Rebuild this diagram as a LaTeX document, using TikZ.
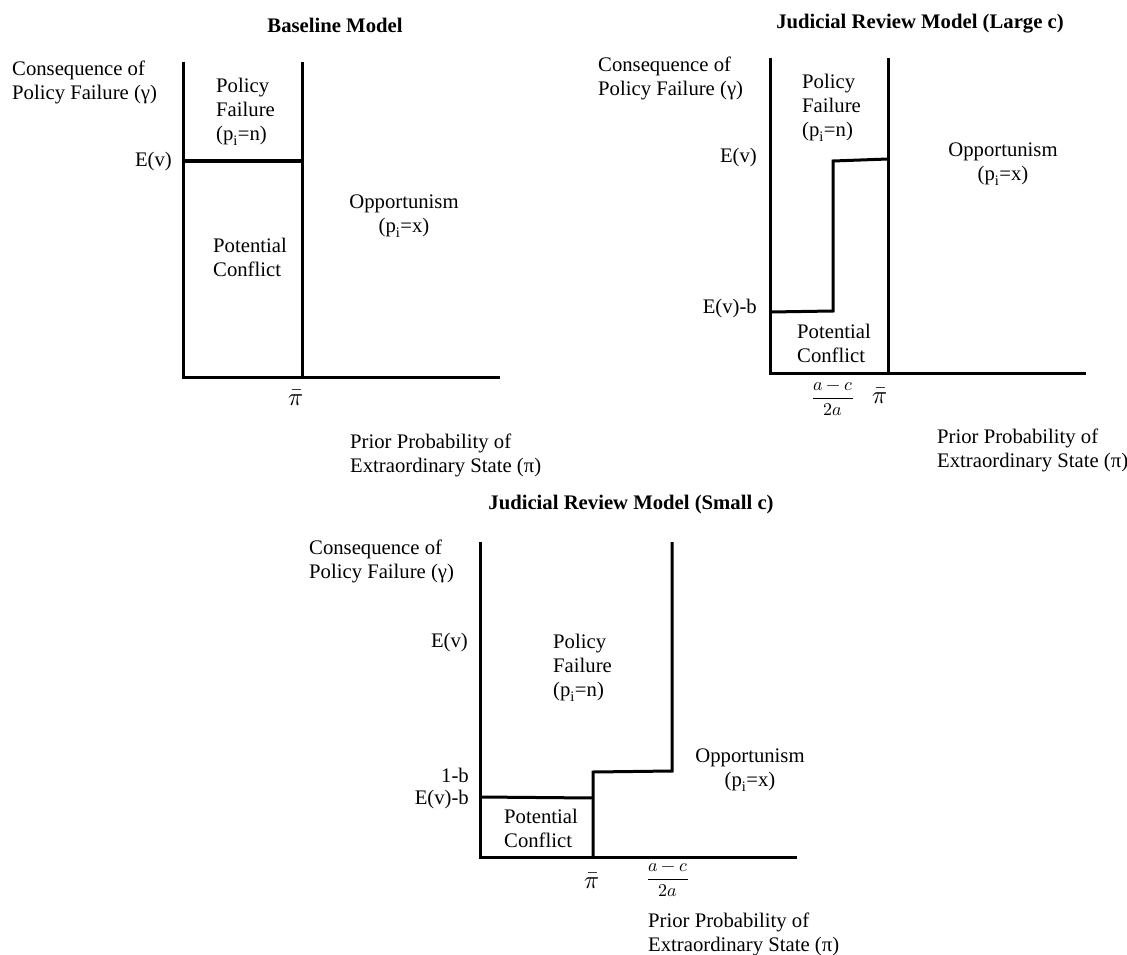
\documentclass[tikz,border=0pt]{standalone}
\usepackage{amsmath}
\usepackage{fontspec}
\usepackage{unicode-math}
\setmainfont{Liberation Serif}
\setmathfont{Latin Modern Math}
\usepackage{tikz}
\newcommand{\diagfont}{\fontsize{20.7}{24}\selectfont}
\newcommand{\pifont}{\fontsize{25}{28}\selectfont}
\newcommand{\fracfont}{\fontsize{18}{21}\selectfont}
\tikzstyle{bound} = [line width=3pt, line join=miter]
\tikzstyle{lbl} = [inner sep=0pt, align=left, font=\diagfont]
\tikzstyle{region} = [inner sep=0pt, align=left, font=\diagfont]
\tikzstyle{heading} = [inner sep=0pt, font=\diagfont\bfseries]
\begin{document}
\begin{tikzpicture}[x=1pt,y=-1pt,
opp/.style={inner sep=0pt, align=center, font=\diagfont},
tick/.style={inner sep=0pt, font=\pifont},
cut/.style={inner sep=0pt, font=\fracfont}]
\useasboundingbox (0,0) rectangle (1127,955);
%Baseline Model
\coordinate (top1) at (183,62);
\coordinate (o1) at (183,377);
\coordinate (end1) at (500,377);
\coordinate (divtop1) at (302,62);
\coordinate (div1) at (302,377);
\coordinate (ev1a) at (183,161);
\coordinate (ev1b) at (302,161);
\draw[bound] (top1) -- (o1) -- (end1);
\draw[bound] (divtop1) -- (div1);
\draw[bound] (ev1a) -- (ev1b);
\node[heading] at (335,25) (title1){Baseline Model};
\node[lbl,anchor=west] at (12,82) (ylab1){Consequence of\\Policy Failure (γ)};
\node[lbl,anchor=east] at (172,162) (evlab1){E(v)};
\node[region,anchor=west] at (216,112) (fail1){Policy\\Failure\\(p\textsubscript{i}=n)};
\node[region,anchor=west] at (213,257) (conf1){Potential\\Conflict};
\node[opp] at (404,216) (opp1){Opportunism\\(p\textsubscript{i}=x)};
\node[tick] at (296,398) (pibar1){$\bar{\pi}$};
\node[lbl,anchor=west] at (350,455) (xlab1){Prior Probability of\\Extraordinary State (π)};

%Judicial Review Model (Large c)
\coordinate (top2) at (770,58);
\coordinate (o2) at (770,373);
\coordinate (end2) at (1086,373);
\coordinate (divtop2) at (888,58);
\coordinate (div2) at (888,373);
\coordinate (low2a) at (770,312);
\coordinate (low2b) at (833,311);
\coordinate (up2a) at (833,161);
\coordinate (up2b) at (888,159);
\draw[bound] (top2) -- (o2) -- (end2);
\draw[bound] (divtop2) -- (div2);
\draw[bound] (low2a) -- (low2b) -- (up2a) -- (up2b);
\node[heading] at (920,24) (title2){Judicial Review Model (Large c)};
\node[lbl,anchor=west] at (598,78) (ylab2){Consequence of\\Policy Failure (γ)};
\node[lbl,anchor=east] at (757,158) (evlab2){E(v)};
\node[lbl,anchor=east] at (757,309) (evb2){E(v)-b};
\node[region,anchor=west] at (802,108) (fail2){Policy\\Failure\\(p\textsubscript{i}=n)};
\node[region,anchor=west] at (797,343) (conf2){Potential\\Conflict};
\node[opp] at (1003,164) (opp2){Opportunism\\(p\textsubscript{i}=x)};
\node[cut] at (833,399) (ac2){$\displaystyle\frac{a-c}{2a}$};
\node[tick] at (880,396) (pibar2){$\bar{\pi}$};
\node[lbl,anchor=west] at (937,450) (xlab2){Prior Probability of\\Extraordinary State (π)};

%Judicial Review Model (Small c)
\coordinate (top3) at (480,542);
\coordinate (o3) at (480,857);
\coordinate (end3) at (797,857);
\coordinate (divtop3) at (672,542);
\coordinate (div3) at (672,771);
\coordinate (low3a) at (480,797);
\coordinate (low3b) at (593,798);
\coordinate (step3) at (593,857);
\coordinate (up3a) at (593,772);
\draw[bound] (top3) -- (o3) -- (end3);
\draw[bound] (low3a) -- (low3b);
\draw[bound] (step3) -- (up3a) -- (div3) -- (divtop3);
\node[heading] at (631,505) (title3){Judicial Review Model (Small c)};
\node[lbl,anchor=west] at (309,561) (ylab3){Consequence of\\Policy Failure (γ)};
\node[lbl,anchor=east] at (468,643) (evlab3){E(v)};
\node[lbl,anchor=east] at (469,775) (oneb3){1-b};
\node[lbl,anchor=east] at (469,800) (evb3){E(v)-b};
\node[region,anchor=west] at (553,668) (fail3){Policy\\Failure\\(p\textsubscript{i}=n)};
\node[region,anchor=west] at (504,828) (conf3){Potential\\Conflict};
\node[opp] at (750,770) (opp3){Opportunism\\(p\textsubscript{i}=x)};
\node[tick] at (592,881) (pibar3){$\bar{\pi}$};
\node[cut] at (668,880) (ac3){$\displaystyle\frac{a-c}{2a}$};
\node[lbl,anchor=west] at (648,934) (xlab3){Prior Probability of\\Extraordinary State (π)};
\end{tikzpicture}
\end{document}
